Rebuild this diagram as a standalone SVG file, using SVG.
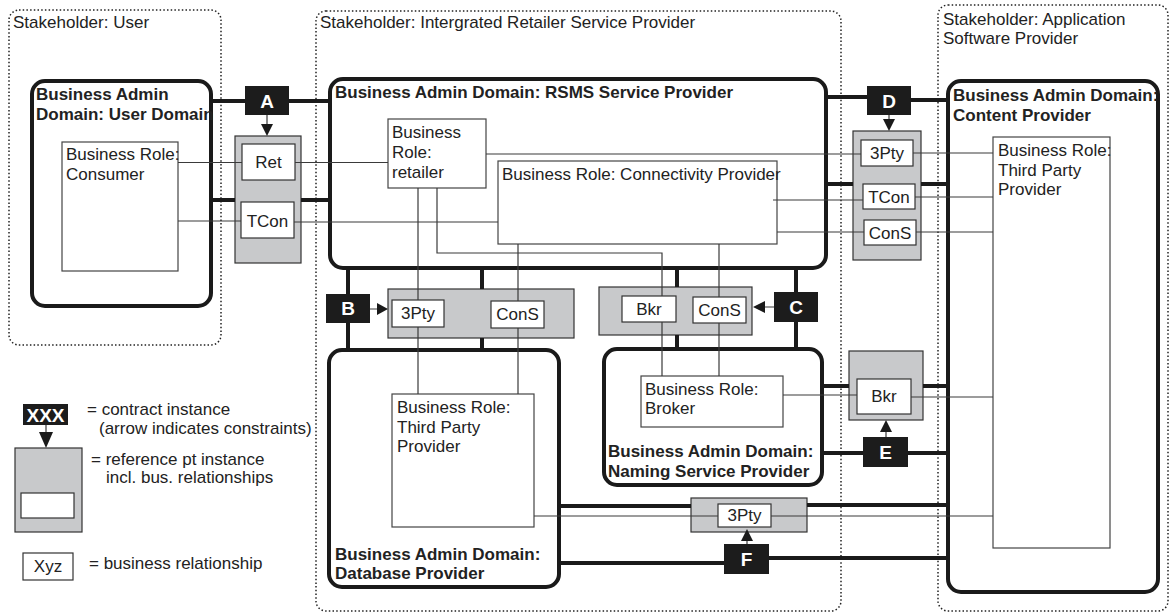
<svg xmlns="http://www.w3.org/2000/svg" width="1173" height="614" viewBox="0 0 1173 614">
  <style>
    .t { font-family: "Liberation Sans", Arial, sans-serif; font-size: 17px; fill: #222; }
    .b { font-weight: bold; }
    .m { text-anchor: middle; }
    .stake { fill: none; stroke: #222; stroke-width: 1.5; stroke-dasharray: 1.5 2.2; }
    .dom { fill: none; stroke: #1a1a1a; stroke-width: 4; }
    .role { fill: #fff; stroke: #444; stroke-width: 1.2; }
    .rp { fill: #c8c9cb; stroke: #333; stroke-width: 1.2; }
    .rel { fill: #fff; stroke: #333; stroke-width: 1.2; }
    .ct { fill: #1c1c1c; }
    .ctl { font-family: "Liberation Sans", Arial, sans-serif; font-size: 19px; font-weight: bold; fill: #fff; text-anchor: middle; }
    .thick { fill: none; stroke: #1a1a1a; stroke-width: 4; }
    .thin { fill: none; stroke: #3a3a3a; stroke-width: 1.2; }
    .ah { fill: #1a1a1a; }
  </style>

  <!-- stakeholders -->
  <g id="stakeholder-user">
    <rect class="stake" x="9" y="10" width="212" height="335" rx="10"/>
    <text class="t" x="13" y="28">Stakeholder: User</text>
  </g>
  <g id="stakeholder-irsp">
    <rect class="stake" x="316" y="11" width="525" height="600" rx="10"/>
    <text class="t" x="320" y="28">Stakeholder: Intergrated Retailer Service Provider</text>
  </g>
  <g id="stakeholder-asp">
    <rect class="stake" x="938" y="5" width="230" height="606" rx="10"/>
    <text class="t" x="943" y="25">Stakeholder: Application</text>
    <text class="t" x="943" y="44">Software Provider</text>
  </g>

  <!-- administrative domains -->
  <g id="domain-user">
    <rect class="dom" x="32" y="81" width="179" height="225" rx="13"/>
    <text class="t b" x="36" y="100">Business Admin</text>
    <text class="t b" x="36" y="120">Domain: User Domain</text>
  </g>
  <g id="domain-rsms">
    <rect class="dom" x="330" y="79" width="496" height="189" rx="13"/>
    <text class="t b" x="335" y="98">Business Admin Domain: RSMS Service Provider</text>
  </g>
  <g id="domain-content">
    <rect class="dom" x="948" y="81" width="210" height="511" rx="13"/>
    <text class="t b" x="953" y="101">Business Admin Domain:</text>
    <text class="t b" x="953" y="121">Content Provider</text>
  </g>
  <g id="domain-database">
    <rect class="dom" x="329" y="350" width="230" height="237" rx="13"/>
    <text class="t b" x="335" y="560">Business Admin Domain:</text>
    <text class="t b" x="335" y="579">Database Provider</text>
  </g>
  <g id="domain-naming">
    <rect class="dom" x="604" y="349" width="218" height="136" rx="13"/>
    <text class="t b" x="608" y="457">Business Admin Domain:</text>
    <text class="t b" x="608" y="477">Naming Service Provider</text>
  </g>

  <!-- business roles -->
  <g id="role-consumer">
    <rect class="role" x="62" y="142" width="116" height="129"/>
    <text class="t" x="66" y="160">Business Role:</text>
    <text class="t" x="66" y="180">Consumer</text>
  </g>
  <g id="role-retailer">
    <rect class="role" x="388" y="119" width="98" height="69"/>
    <text class="t" x="392" y="138">Business</text>
    <text class="t" x="392" y="158">Role:</text>
    <text class="t" x="392" y="178">retailer</text>
  </g>
  <g id="role-connectivity">
    <rect class="role" x="498" y="161" width="279" height="83"/>
    <text class="t" x="502" y="180">Business Role: Connectivity Provider</text>
  </g>
  <g id="role-third-party-content">
    <rect class="role" x="993" y="137" width="117" height="411"/>
    <text class="t" x="998" y="156">Business Role:</text>
    <text class="t" x="998" y="176">Third Party</text>
    <text class="t" x="998" y="195">Provider</text>
  </g>
  <g id="role-third-party-db">
    <rect class="role" x="392" y="394" width="142" height="133"/>
    <text class="t" x="397" y="413">Business Role:</text>
    <text class="t" x="397" y="433">Third Party</text>
    <text class="t" x="397" y="452">Provider</text>
  </g>
  <g id="role-broker">
    <rect class="role" x="641" y="376" width="142" height="51"/>
    <text class="t" x="645" y="395">Business Role:</text>
    <text class="t" x="645" y="414">Broker</text>
  </g>

  <!-- reference points with their business relationships -->
  <g id="refpt-a">
    <rect class="rp" x="235" y="136" width="66" height="127"/>
    <rect class="rel" x="242" y="144" width="53" height="36"/>
    <text class="t m" x="268.5" y="168">Ret</text>
    <rect class="rel" x="241" y="202" width="53" height="36"/>
    <text class="t m" x="267.5" y="227">TCon</text>
  </g>
  <g id="refpt-d">
    <rect class="rp" x="853" y="131" width="68" height="129"/>
    <rect class="rel" x="861" y="140" width="52" height="26"/>
    <text class="t m" x="887" y="159">3Pty</text>
    <rect class="rel" x="863" y="184" width="52" height="25"/>
    <text class="t m" x="889" y="203">TCon</text>
    <rect class="rel" x="864" y="220" width="52" height="25"/>
    <text class="t m" x="890" y="239">ConS</text>
  </g>
  <g id="refpt-b">
    <rect class="rp" x="388" y="289" width="186" height="49"/>
    <rect class="rel" x="392" y="300" width="52" height="27"/>
    <text class="t m" x="418" y="319">3Pty</text>
    <rect class="rel" x="491" y="301" width="53" height="27"/>
    <text class="t m" x="517.5" y="320">ConS</text>
  </g>
  <g id="refpt-c">
    <rect class="rp" x="599" y="287" width="153" height="48"/>
    <rect class="rel" x="622" y="296" width="54" height="26"/>
    <text class="t m" x="649" y="315">Bkr</text>
    <rect class="rel" x="693" y="297" width="53" height="26"/>
    <text class="t m" x="719.5" y="316">ConS</text>
  </g>
  <g id="refpt-e">
    <rect class="rp" x="849" y="351" width="74" height="69"/>
    <rect class="rel" x="857" y="379" width="54" height="35"/>
    <text class="t m" x="884" y="402">Bkr</text>
  </g>
  <g id="refpt-f">
    <rect class="rp" x="691" y="498" width="116" height="34"/>
    <rect class="rel" x="718" y="504" width="53" height="23"/>
    <text class="t m" x="744.5" y="521">3Pty</text>
  </g>

  <!-- contract instances -->
  <g id="contract-a">
    <rect class="ct" x="245" y="86" width="44" height="29"/>
    <text class="ctl" x="267" y="108">A</text>
  </g>
  <g id="contract-b">
    <rect class="ct" x="326" y="294" width="44" height="29"/>
    <text class="ctl" x="348" y="315">B</text>
  </g>
  <g id="contract-c">
    <rect class="ct" x="774" y="292" width="44" height="30"/>
    <text class="ctl" x="796" y="314">C</text>
  </g>
  <g id="contract-d">
    <rect class="ct" x="867" y="86" width="44" height="29"/>
    <text class="ctl" x="889" y="108">D</text>
  </g>
  <g id="contract-e">
    <rect class="ct" x="863" y="437" width="45" height="30"/>
    <text class="ctl" x="885.5" y="459">E</text>
  </g>
  <g id="contract-f">
    <rect class="ct" x="724" y="544" width="45" height="30"/>
    <text class="ctl" x="746.5" y="566">F</text>
  </g>

  <!-- connectors -->
  <g id="connectors">
    <!-- contract bindings (thick) -->
    <path class="thick" d="M213 101 H245 M289 101 H330"/>
    <path class="thick" d="M213 200 H235 M301 200 H332"/>
    <path class="thick" d="M826 97 H867 M911 100 H948"/>
    <path class="thick" d="M826 184 H853 M921 184 H948"/>
    <path class="thick" d="M348 268 V294 M348 323 V350"/>
    <path class="thick" d="M482 268 V289 M482 338 V350"/>
    <path class="thick" d="M796 268 V292 M796 322 V349"/>
    <path class="thick" d="M677 268 V287 M677 335 V349"/>
    <path class="thick" d="M822 386 H849 M923 386 H948"/>
    <path class="thick" d="M822 453 H863 M908 453 H948"/>
    <path class="thick" d="M559 506 H691 M807 505 H948"/>
    <path class="thick" d="M559 563 H724 M769 558 H948"/>

    <!-- business relationship links (thin) -->
    <path class="thin" d="M178 162.5 H242 M295 162.5 H388"/>
    <path class="thin" d="M178 221 H241 M294 222 H498"/>
    <path class="thin" d="M486 154 H861 M913 153 H993"/>
    <path class="thin" d="M773 200 H863 M915 197 H993"/>
    <path class="thin" d="M777 232 H864 M916 232 H993"/>
    <path class="thin" d="M418 188 V300 M418 327 V394"/>
    <path class="thin" d="M437 188 V253 H662 V296 M662 322 V376"/>
    <path class="thin" d="M518 244 V301 M518 328 V394"/>
    <path class="thin" d="M719 244 V297 M719 323 V376"/>
    <path class="thin" d="M783 395 H857 M911 397 H993"/>
    <path class="thin" d="M534 516 H718 M771 516 H993"/>

    <!-- constraint arrows -->
    <path class="thin" stroke-width="1.5" d="M267 115 V125 M889 115 V120 M370 309 H378 M774 307 H764 M886 437 V431 M747 544 V540"/>
    <polygon class="ah" points="261,124 273,124 267,136"/>
    <polygon class="ah" points="883,119 895,119 889,131"/>
    <polygon class="ah" points="377,303 377,315 388,309"/>
    <polygon class="ah" points="765,301 765,313 753,307"/>
    <polygon class="ah" points="880,432 892,432 886,420"/>
    <polygon class="ah" points="741,541 753,541 747,529"/>
  </g>

  <!-- legend -->
  <g id="legend">
    <rect class="ct" x="23" y="404" width="45" height="21"/>
    <text class="ctl" x="45.5" y="422">XXX</text>
    <path class="thin" stroke-width="1.5" d="M46 425 V433"/>
    <polygon class="ah" points="39,432 53,432 46,448"/>
    <text class="t" x="87" y="415">= contract instance</text>
    <text class="t" x="99" y="434">(arrow indicates constraints)</text>
    <rect class="rp" x="15" y="448" width="67" height="84"/>
    <rect class="rel" x="21" y="493" width="53" height="25"/>
    <text class="t" x="91" y="465">= reference pt instance</text>
    <text class="t" x="106" y="483">incl. bus. relationships</text>
    <rect class="rel" x="23" y="553" width="50" height="27"/>
    <text class="t m" x="48" y="572">Xyz</text>
    <text class="t" x="89" y="569">= business relationship</text>
  </g>
</svg>
